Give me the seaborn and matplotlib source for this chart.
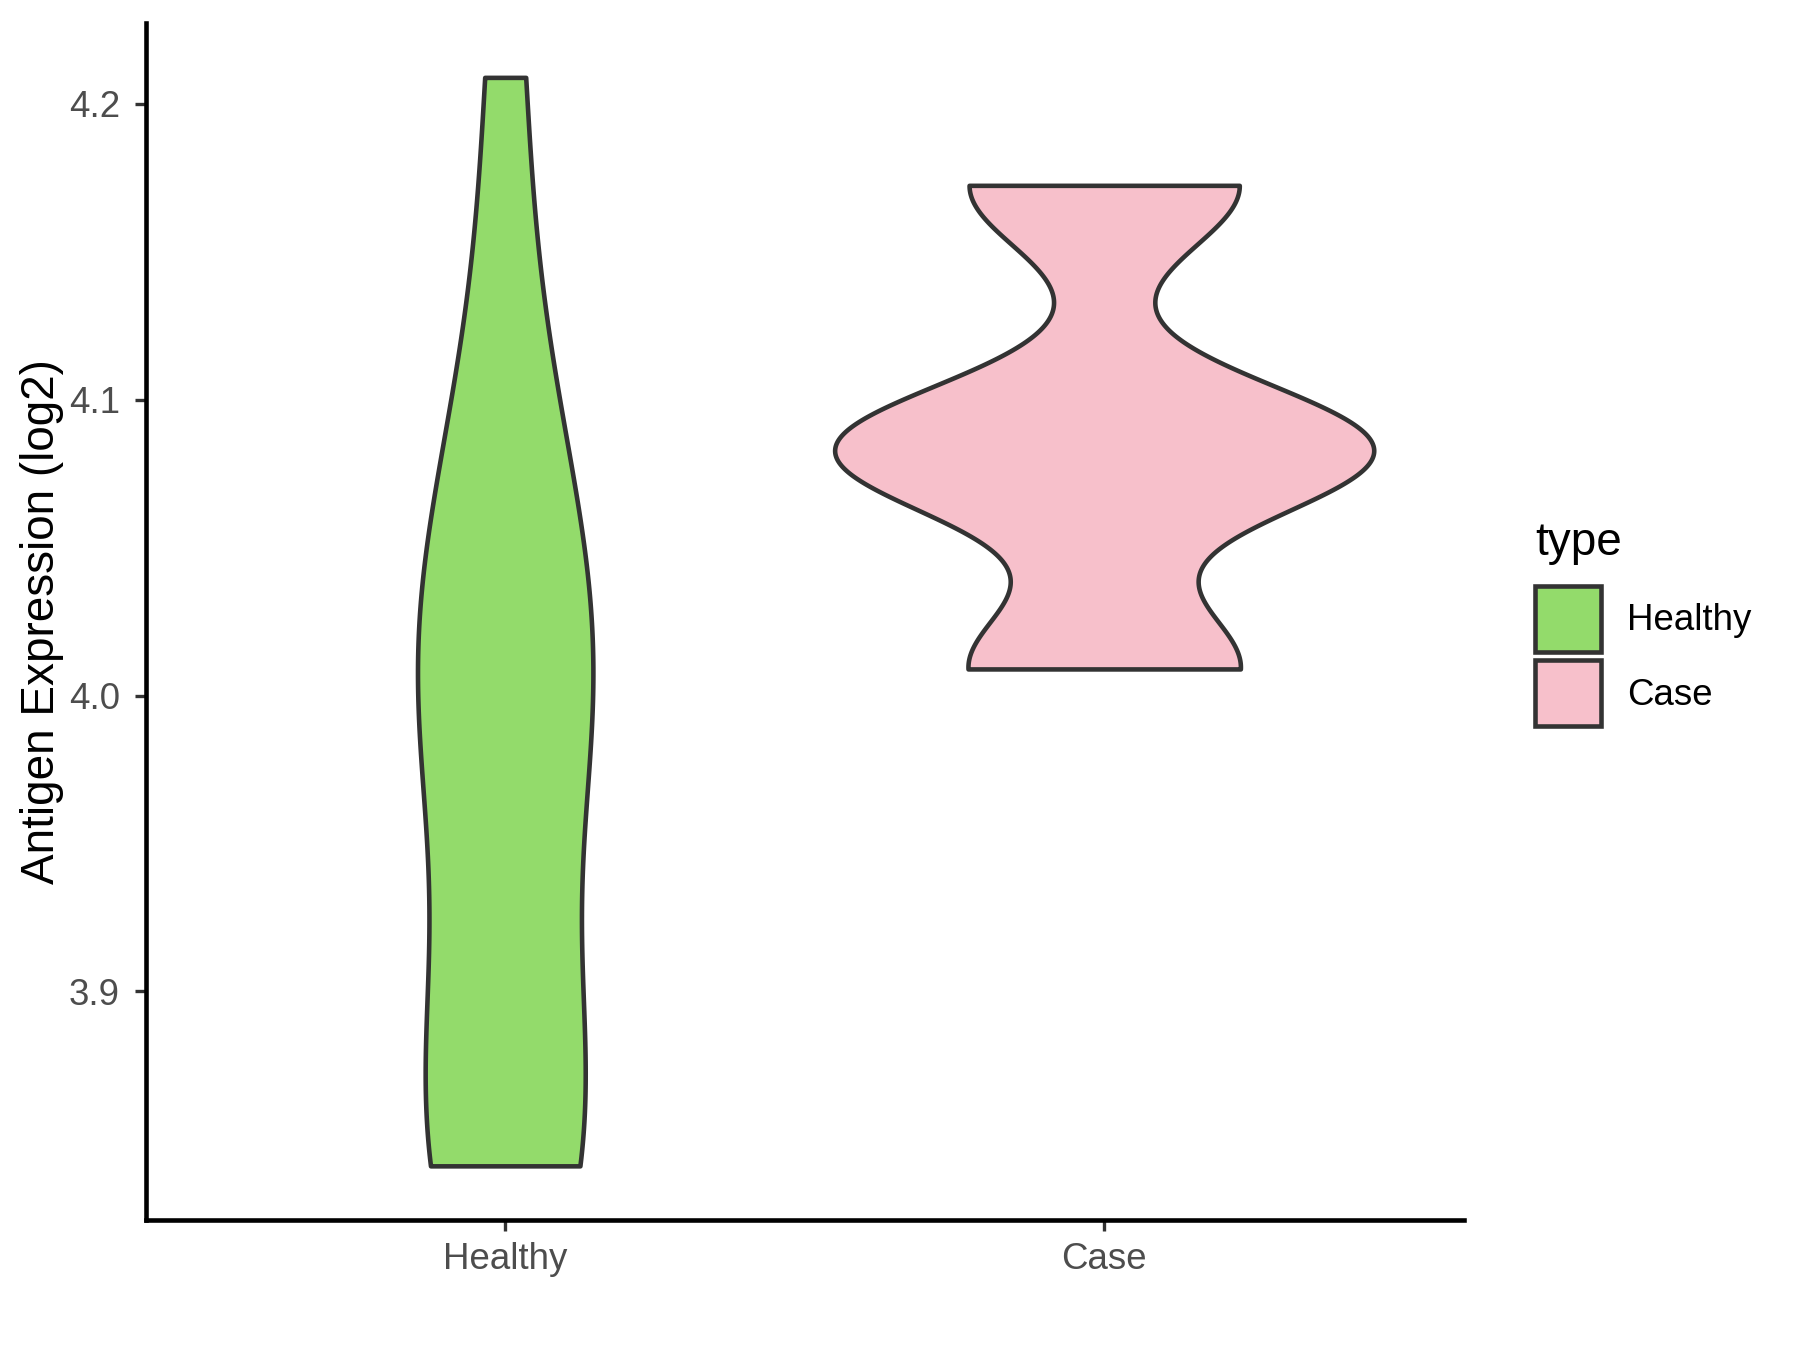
import numpy as np
import pandas as pd
import matplotlib
matplotlib.use("Agg")
import matplotlib.pyplot as plt
from matplotlib.patches import Patch
from matplotlib.ticker import FormatStrFormatter
import seaborn as sns

# Antigen expression (log2) per sample
healthy = [3.841, 3.843, 3.850, 3.862, 3.876, 3.975, 3.990, 4.000, 4.012, 4.030, 4.075, 4.105, 4.209]
case = [4.009, 4.081, 4.085, 4.1725]
groups = ['Healthy', 'Case']
colors = ['#93DB6B', '#F7C0CB']
yticks = [3.9, 4.0, 4.1, 4.2]

df = pd.DataFrame({
    'type': ['Healthy'] * len(healthy) + ['Case'] * len(case),
    'value': healthy + case,
})


def nrd0(kde):
    # R's default bandwidth (bw.nrd0) expressed as a factor of the sample sd
    x = kde.dataset.ravel()
    sd = x.std(ddof=1)
    q75, q25 = np.percentile(x, [75, 25])
    return 0.9 * min(sd, (q75 - q25) / 1.34) * len(x) ** -0.2 / sd


plt.rcParams['font.family'] = ['Liberation Sans', 'DejaVu Sans']

fig = plt.figure(figsize=(6, 4.5), dpi=300)
ax = fig.add_axes([0.081, 0.0961, 0.7321, 0.8869])

sns.violinplot(data=df, x='type', y='value', hue='type', order=groups, hue_order=groups,
               palette=colors, saturation=1, cut=0, inner=None, density_norm='area',
               common_norm=True, width=0.9, gridsize=512, bw_method=nrd0,
               linewidth=1.1, linecolor='#333333', legend=False, ax=ax)

# ggplot-like limits: discrete axis padded by 0.6, continuous by 5%
vals = df['value']
span = vals.max() - vals.min()
ax.set_xlim(-0.6, len(groups) - 0.4)
ax.set_ylim(vals.min() - 0.05 * span, vals.max() + 0.05 * span)
ax.set_yticks(yticks)
ax.yaxis.set_major_formatter(FormatStrFormatter('%.1f'))

ax.set_xlabel('')
ax.set_ylabel('Antigen Expression (log2)', fontsize=11, color='black', labelpad=1)

for side in ['top', 'right']:
    ax.spines[side].set_visible(False)
for side in ['left', 'bottom']:
    ax.spines[side].set_color('black')
    ax.spines[side].set_linewidth(1.1)
ax.tick_params(axis='both', length=2.75, width=0.8, color='#333333',
               labelsize=8.8, labelcolor='#4D4D4D')
ax.tick_params(axis='y', pad=3.5)
ax.tick_params(axis='x', pad=2.5)

handles = [Patch(facecolor=c, edgecolor='#333333', linewidth=1.1, label=g)
           for g, c in zip(groups, colors)]
leg = fig.legend(handles=handles, title='type', loc='upper left', bbox_to_anchor=(0.853, 0.614),
                 frameon=False, fontsize=8.8, title_fontsize=11, handlelength=1.8,
                 handleheight=2.4, handletextpad=0.7, labelspacing=0.22,
                 borderpad=0, borderaxespad=0)
leg._legend_box.align = 'left'
leg._legend_box.sep = 5.0

fig.savefig('out.png', dpi=300)
